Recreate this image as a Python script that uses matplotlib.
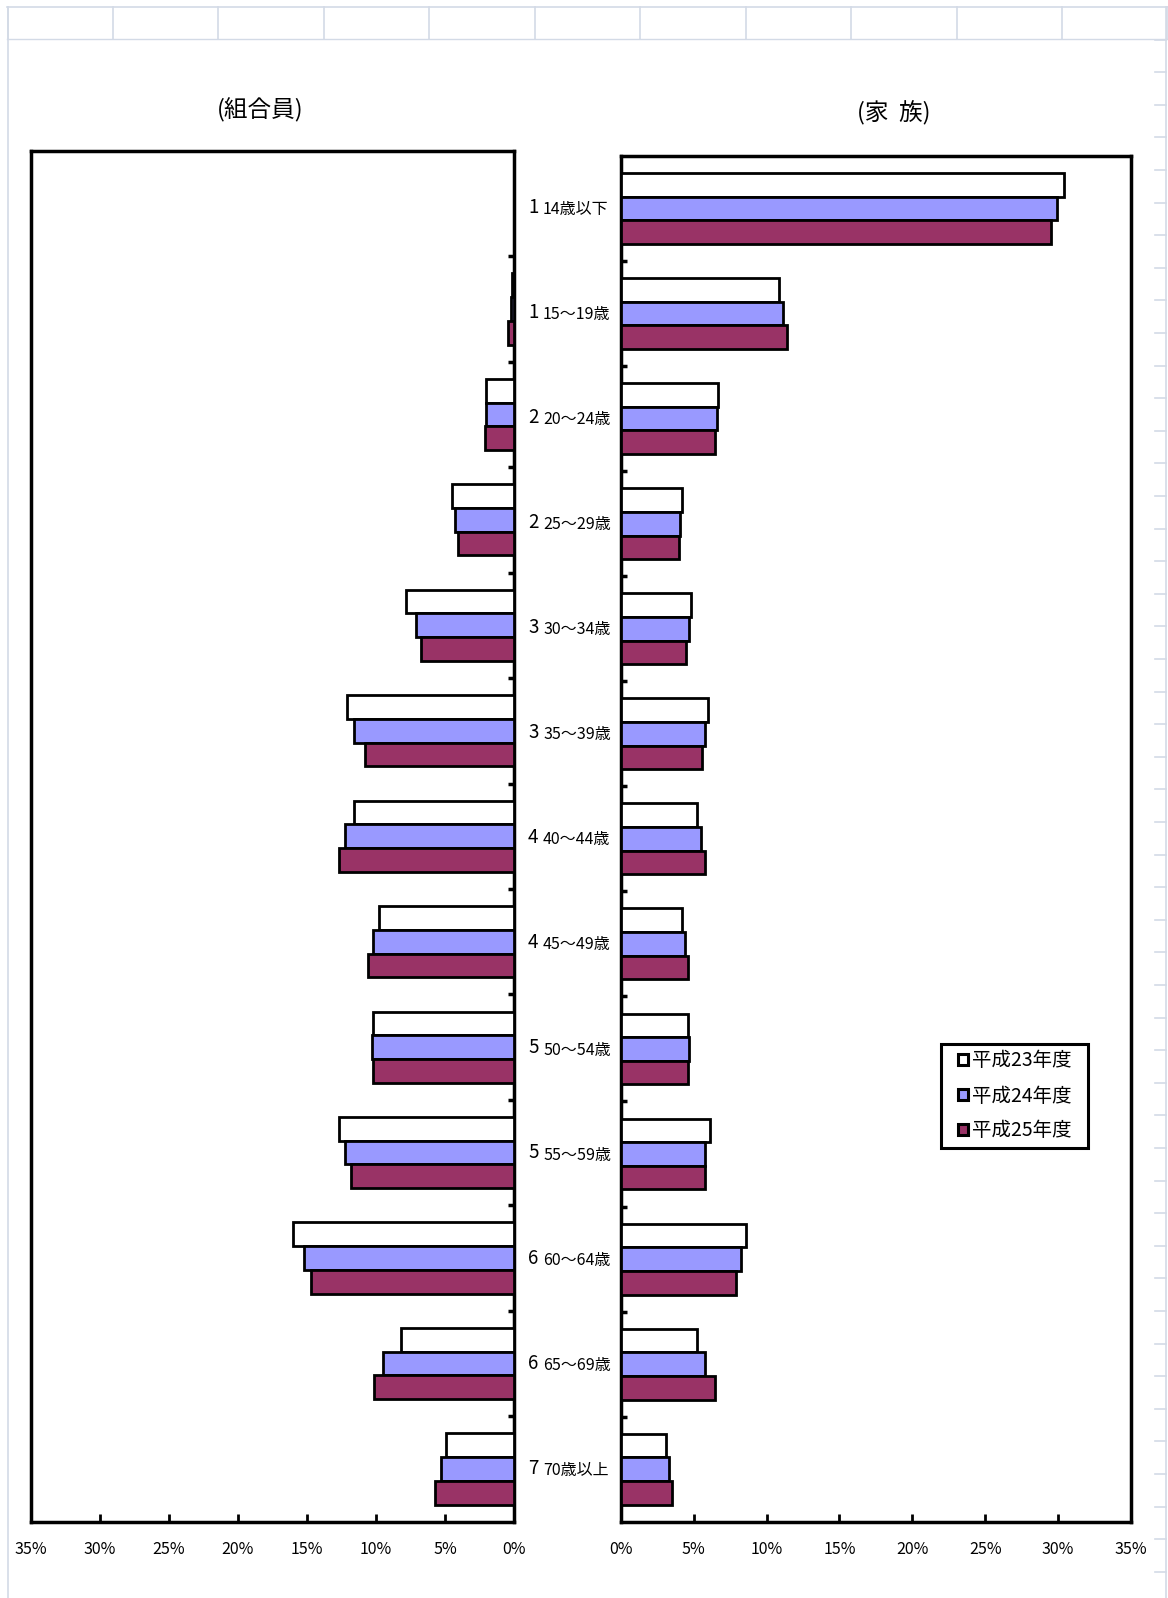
import matplotlib.pyplot as plt
import numpy as np
from matplotlib.patches import Patch, Rectangle
from matplotlib.ticker import FuncFormatter
from matplotlib.transforms import blended_transform_factory

plt.rcParams['font.family'] = ['Noto Sans CJK JP', 'DejaVu Sans']

# age groups (prefix number + label)
age_nums = ['1', '1', '2', '2', '3', '3', '4', '4', '5', '5', '6', '6', '7']
age_labels = ['14歳以下', '15～19歳', '20～24歳', '25～29歳', '30～34歳', '35～39歳',
              '40～44歳', '45～49歳', '50～54歳', '55～59歳', '60～64歳', '65～69歳',
              '70歳以上']
years = ['平成23年度', '平成24年度', '平成25年度']

# 組合員 (%)
member_h23 = [0.0, 0.15, 2.0, 4.5, 7.8, 12.1, 11.6, 9.8, 10.2, 12.7, 16.0, 8.2, 4.9]
member_h24 = [0.0, 0.2, 2.0, 4.3, 7.1, 11.6, 12.2, 10.2, 10.3, 12.2, 15.2, 9.5, 5.3]
member_h25 = [0.0, 0.4, 2.1, 4.05, 6.7, 10.8, 12.7, 10.6, 10.2, 11.8, 14.7, 10.1, 5.7]

# 家族 (%)
family_h23 = [30.4, 10.85, 6.65, 4.2, 4.8, 6.0, 5.25, 4.2, 4.6, 6.15, 8.6, 5.2, 3.1]
family_h24 = [29.9, 11.1, 6.6, 4.05, 4.7, 5.8, 5.5, 4.4, 4.7, 5.8, 8.25, 5.8, 3.3]
family_h25 = [29.5, 11.4, 6.45, 4.0, 4.5, 5.6, 5.75, 4.6, 4.6, 5.75, 7.9, 6.45, 3.5]

colors = ['#ffffff', '#9999ff', '#993366']

W, H = 1168, 1598
fig = plt.figure(figsize=(W / 100, H / 100), dpi=100)
fig.patch.set_facecolor('white')

# spreadsheet cell grid behind the charts
bg = fig.add_axes([0, 0, 1, 1], zorder=-5)
bg.set_xlim(0, W)
bg.set_ylim(H, 0)
bg.axis('off')
grid_c = '#d3dae6'
bg.plot([7, W], [7, 7], color=grid_c, lw=1.2)
bg.plot([7, W], [38.5, 38.5], color=grid_c, lw=1.0)
for x in 7.5 + 105.45 * np.arange(12):
    bg.plot([x, x], [7, 38.5], color=grid_c, lw=1.2)
bg.plot([7.5, 7.5], [7, H], color=grid_c, lw=1.2)
bg.plot([1166, 1166], [7, H], color=grid_c, lw=1.2)
for y in np.arange(39.6, H, 32.6):
    bg.plot([1155, 1166], [y, y], color=grid_c, lw=1.2)

bottom = 1 - 1521.7 / H
ax_l = fig.add_axes([30.5 / W, bottom, (514 - 30.5) / W, (1521.7 - 150.8) / H])
ax_r = fig.add_axes([620.7 / W, bottom, (1131 - 620.7) / W, (1521.7 - 156) / H])

pos = np.arange(len(age_labels))
bh = 0.225
offsets = [-bh, 0, bh]

member = [member_h23, member_h24, member_h25]
family = [family_h23, family_h24, family_h25]

for ax, series in [(ax_l, member), (ax_r, family)]:
    for vals, off, c in zip(series, offsets, colors):
        ax.barh(pos + off, vals, height=bh, color=c, edgecolor='black',
                linewidth=2.0, zorder=3)
    ax.set_ylim(len(age_labels) - 0.5, -0.5)
    ax.set_xticks(np.arange(0, 36, 5))
    ax.xaxis.set_major_formatter(FuncFormatter(lambda v, p: f'{int(v)}%'))
    ax.tick_params(axis='x', direction='in', length=6, width=2, pad=14,
                   labelsize=11.5)
    ax.set_yticks(np.arange(0.5, len(age_labels) - 1, 1))
    ax.set_yticklabels([])
    ax.tick_params(axis='y', direction='in', length=4, width=2.5)
    for s in ax.spines.values():
        s.set_linewidth(2.5)

ax_l.set_xlim(35, 0)
ax_l.yaxis.tick_right()
ax_r.set_xlim(0, 35)
ax_r.yaxis.tick_left()

fig.text(260 / W, 1 - 110 / H, '(組合員)', ha='center', va='center', fontsize=17)
fig.text(894 / W, 1 - 113 / H, '(家  族)', ha='center', va='center', fontsize=17)

# category labels between the two panels
tr = blended_transform_factory(fig.transFigure, ax_r.transData)
for i, (n, lab) in enumerate(zip(age_nums, age_labels)):
    ax_r.text(528 / W, i - 0.01, n, transform=tr, ha='left', va='center',
              fontsize=13.5, clip_on=False)
    ax_r.text(543 / W, i + 0.01, lab, transform=tr, ha='left', va='center',
              fontsize=11.5, clip_on=False)

# legend: entries without frame, box drawn separately on top of the axes
box = Rectangle((941 / W, 1 - 1148 / H), 147 / W, 104 / H,
                transform=fig.transFigure, facecolor='white', edgecolor='black',
                linewidth=2.2, zorder=8)
fig.add_artist(box)
handles = [Patch(facecolor=c, edgecolor='black', linewidth=2.2) for c in colors]
leg = fig.legend(handles, years, loc='center',
                 bbox_to_anchor=(1015 / W, 1 - 1096 / H), fontsize=14,
                 handlelength=0.5, handleheight=0.5, handletextpad=0.2,
                 labelspacing=0.72, borderpad=0.2, frameon=False,
                 borderaxespad=0)
leg.set_zorder(9)

fig.savefig('out.png', dpi=100)
